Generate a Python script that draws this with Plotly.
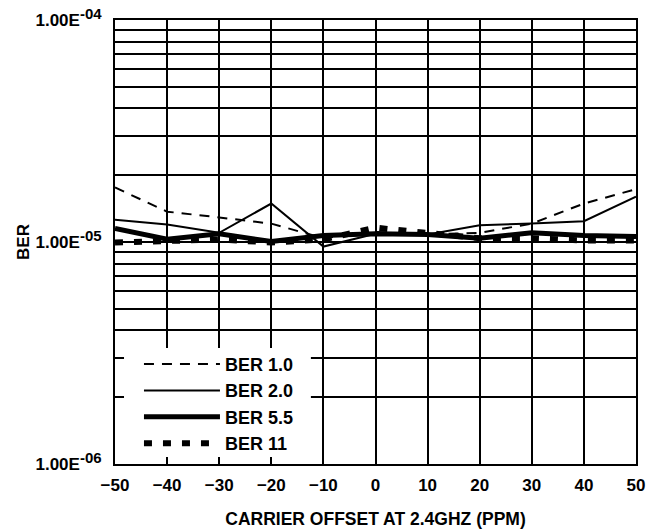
import math
import plotly.graph_objects as go

# carrier offset (ppm)
offset_ppm = [-50, -40, -30, -20, -10, 0, 10, 20, 30, 40, 50]

# BER values
ber_1_0 = [1.76e-5, 1.37e-5, 1.29e-5, 1.21e-5, 1.04e-5, 1.11e-5, 1.08e-5, 1.10e-5, 1.21e-5, 1.49e-5, 1.73e-5]
ber_2_0 = [1.26e-5, 1.20e-5, 1.10e-5, 1.49e-5, 0.954e-5, 1.09e-5, 1.08e-5, 1.19e-5, 1.21e-5, 1.24e-5, 1.60e-5]
ber_5_5 = [1.15e-5, 1.03e-5, 1.09e-5, 1.005e-5, 1.07e-5, 1.09e-5, 1.08e-5, 1.04e-5, 1.10e-5, 1.07e-5, 1.06e-5]
ber_11 = [0.995e-5, 1.016e-5, 1.026e-5, 0.995e-5, 1.026e-5, 1.16e-5, 1.09e-5, 1.04e-5, 1.04e-5, 1.016e-5, 1.016e-5]

series = {
    "BER 1.0": (ber_1_0, dict(width=2, dash="10px,8px")),
    "BER 2.0": (ber_2_0, dict(width=2, dash="solid")),
    "BER 5.5": (ber_5_5, dict(width=5, dash="solid")),
    "BER 11": (ber_11, dict(width=6, dash="8px,11px")),
}

# y ticks: labels on the decades, grid on every 2..9 in between
decades = [1e-6, 1e-5, 1e-4]
decade_labels = [
    '1.00E<sup><span style="font-size:15px">-%02d</span></sup>' % round(-math.log10(d))
    for d in decades
]
minor_vals = [m * d for d in decades[:-1] for m in range(2, 10)]

FONT = "Liberation Sans, Arial, sans-serif"
TICKFONT = dict(family=FONT, size=17, color="black", weight="bold")

fig = go.Figure()

for i, (name, (vals, style)) in enumerate(series.items()):
    fig.add_trace(
        go.Scatter(
            x=offset_ppm,
            y=vals,
            mode="lines",
            name=name,
            legendgroup=str(i),
            line=dict(color="black", **style),
        )
    )

# white panel behind the legend (hides the grid there, like the original)
fig.add_shape(
    type="rect",
    xref="x domain",
    yref="y domain",
    x0=0.0173,
    x1=0.376,
    y0=0.0158,
    y1=0.261,
    fillcolor="white",
    line=dict(width=0),
    layer="above",
)

fig.update_layout(
    width=656,
    height=529,
    margin=dict(l=115, r=20, t=20, b=65),
    paper_bgcolor="white",
    plot_bgcolor="white",
    font=dict(family=FONT, size=17, color="black", weight="bold"),
    legend=dict(
        x=0.046,
        y=0.005,
        xanchor="left",
        yanchor="bottom",
        bgcolor="rgba(0,0,0,0)",
        borderwidth=0,
        itemwidth=76,
        tracegroupgap=0,
        font=dict(family=FONT, size=18, color="black", weight="bold"),
    ),
    showlegend=True,
)

fig.update_xaxes(
    range=[-50, 50],
    tickvals=offset_ppm,
    showgrid=True,
    gridcolor="black",
    gridwidth=2,
    showline=True,
    linecolor="black",
    linewidth=2,
    mirror=True,
    zeroline=False,
    ticks="",
    automargin=False,
    ticklabelstandoff=5,
    tickfont=TICKFONT,
    title=dict(
        text="CARRIER OFFSET AT 2.4GHZ (PPM)",
        font=dict(family=FONT, size=17.5, color="black", weight="bold"),
        standoff=24,
    ),
)

fig.update_yaxes(
    type="log",
    range=[-6, -4],
    tickvals=decades,
    ticktext=decade_labels,
    minor=dict(tickvals=minor_vals, showgrid=True, gridcolor="black", gridwidth=2, ticks=""),
    showgrid=True,
    gridcolor="black",
    gridwidth=2,
    showline=True,
    linecolor="black",
    linewidth=2,
    mirror=True,
    zeroline=False,
    ticks="",
    automargin=False,
    ticklabeloverflow="allow",
    ticklabelstandoff=8,
    tickfont=TICKFONT,
    title=dict(
        text="BER",
        font=dict(family=FONT, size=17, color="black", weight="bold"),
        standoff=2,
    ),
)

# drop the default 8px page margin so the figure sits at the window's corner
fig.write_html(
    "out.html",
    config={"displayModeBar": False},
    post_script="document.body.style.margin = '0';",
)
